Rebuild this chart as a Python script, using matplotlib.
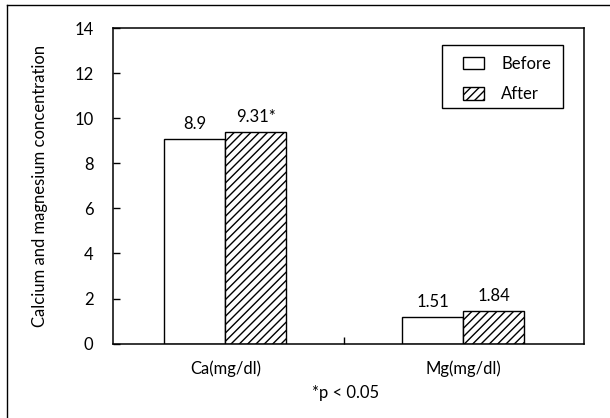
import matplotlib
matplotlib.use("Agg")
import matplotlib.pyplot as plt
import matplotlib.lines as mlines
from matplotlib.patches import Patch, Rectangle

# Data
categories = ['Ca(mg/dl)', 'Mg(mg/dl)']
before_heights = [9.07, 1.18]
after_heights = [9.38, 1.44]
before_labels = ['8.9', '1.51']
after_labels = ['9.31*', '1.84']
y_ticks = [0, 2, 4, 6, 8, 10, 12, 14]

plt.rcParams['font.family'] = ['Lato', 'DejaVu Sans']
plt.rcParams['hatch.linewidth'] = 1.0

FS = 12

fig = plt.figure(figsize=(6.10, 4.18), dpi=100)
ax = fig.add_axes([0.185, 0.178, 0.772, 0.755])

x = list(range(len(categories)))
width = 0.256
bars_before = ax.bar([i - width / 2 for i in x], before_heights, width,
                     color='white', edgecolor='black', linewidth=1.0)
bars_after = ax.bar([i + width / 2 for i in x], after_heights, width,
                    color='white', edgecolor='black', linewidth=1.0, hatch='////')

for b, lab in zip(bars_before, before_labels):
    ax.text(b.get_x() + b.get_width() / 2, b.get_height() + 0.3, lab,
            ha='center', va='bottom', fontsize=FS)
for b, lab in zip(bars_after, after_labels):
    ax.text(b.get_x() + b.get_width() / 2, b.get_height() + 0.3, lab,
            ha='center', va='bottom', fontsize=FS)

ax.set_xlim(-0.473, 1.507)
ax.set_ylim(0, 14)
ax.set_yticks(y_ticks)
ax.tick_params(axis='y', direction='in', length=5, width=1, labelsize=FS, pad=14)
ax.set_xticks([0.5])
ax.set_xticklabels([''])
ax.tick_params(axis='x', which='major', direction='in', length=5, width=1)
ax.set_xticks(x, minor=True)
ax.set_xticklabels(categories, minor=True)
ax.tick_params(axis='x', which='minor', length=0, labelsize=FS, pad=12)
for s in ax.spines.values():
    s.set_linewidth(1.1)

ax.set_ylabel('Calcium and magnesium concentration', fontsize=FS)
ax.yaxis.set_label_coords(-0.138, 0.5)

fig.text(0.567, 0.06, '*p < 0.05', ha='center', va='center', fontsize=FS)

# legend: entries without frame, box drawn separately (wide side padding as in the scan)
handles = [Patch(facecolor='white', edgecolor='black', label='Before'),
           Patch(facecolor='white', edgecolor='black', hatch='////', label='After')]
leg = ax.legend(handles=handles, loc='upper left', bbox_to_anchor=(0.743, 0.912),
                fontsize=FS, frameon=False,
                handlelength=1.3, handleheight=0.8, handletextpad=1.0,
                borderpad=0, labelspacing=0.85, borderaxespad=0)
ax.add_patch(Rectangle((0.6985, 0.746), 0.2565, 0.2, transform=ax.transAxes,
                       facecolor='none', edgecolor='black', linewidth=1.0, zorder=4))

# outer frame of the scanned figure (left and top edges visible)
fig.add_artist(mlines.Line2D([0.0115, 0.0115], [0.0, 0.988], color='black', linewidth=1.0))
fig.add_artist(mlines.Line2D([0.0115, 1.0], [0.988, 0.988], color='black', linewidth=1.0))

fig.savefig('out.png', dpi=100)
